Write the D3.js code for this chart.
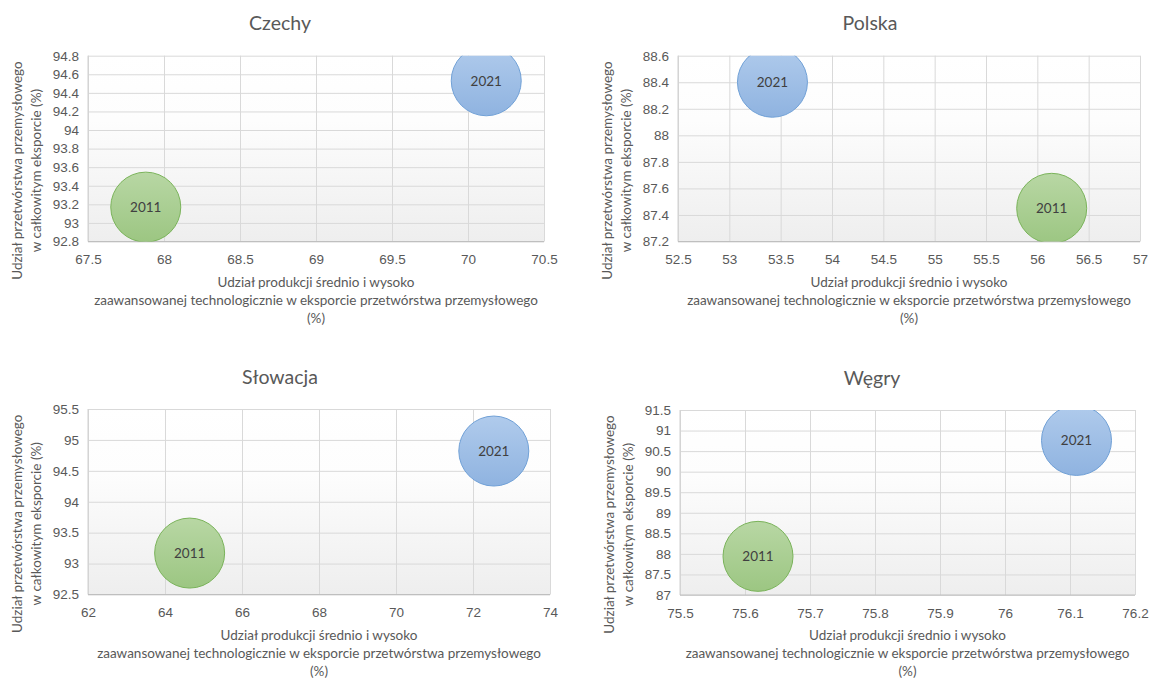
<!DOCTYPE html>
<html>
<head>
<meta charset="utf-8">
<script src="https://cdn.jsdelivr.net/npm/d3@7"></script>
<style>
  html, body { margin: 0; padding: 0; background: #ffffff; }
  svg { display: block; font-family: Lato, "Open Sans", "Liberation Sans", sans-serif; }
</style>
</head>
<body>
<svg id="chart" width="1149" height="678"></svg>
<script>
// Countries shown, one panel each (row by row)
const countries = ["Czechy", "Polska", "Słowacja", "Węgry"];
const years = ["2011", "2021"];

// Share of medium- and high-tech products in manufacturing exports (%)
const techShare2011 = [67.88, 56.14, 64.64, 75.62];
const techShare2021 = [70.12, 53.42, 72.54, 76.11];

// Share of manufacturing in total exports (%)
const manufShare2011 = [93.17, 87.45, 93.17, 87.94];
const manufShare2021 = [94.53, 88.40, 94.82, 90.76];

// Axis tick values per panel
const xTickValues = [
  [67.5, 68, 68.5, 69, 69.5, 70, 70.5],
  [52.5, 53, 53.5, 54, 54.5, 55, 55.5, 56, 56.5, 57],
  [62, 64, 66, 68, 70, 72, 74],
  [75.5, 75.6, 75.7, 75.8, 75.9, 76, 76.1, 76.2]
];
const yTickValues = [
  [92.8, 93, 93.2, 93.4, 93.6, 93.8, 94, 94.2, 94.4, 94.6, 94.8],
  [87.2, 87.4, 87.6, 87.8, 88, 88.2, 88.4, 88.6],
  [92.5, 93, 93.5, 94, 94.5, 95, 95.5],
  [87, 87.5, 88, 88.5, 89, 89.5, 90, 90.5, 91, 91.5]
];

const xTitleLines = [
  "Udział produkcji średnio i wysoko",
  "zaawansowanej technologicznie w eksporcie przetwórstwa przemysłowego",
  "(%)"
];
const yTitleLines = [
  "Udział przetwórstwa przemysłowego",
  "w całkowitym eksporcie (%)"
];

// Plot-area boxes for the four panels [left, top, right, bottom]
const plotBoxes = [
  [88, 55.7, 544, 241.5],
  [678, 55.7, 1140, 241.5],
  [88, 409, 550, 594.5],
  [680, 410, 1135, 595]
];

const bubbleRadius = 35;
const textColor = "#595959";
const fmt = v => String(+v.toFixed(2));

const svg = d3.select("#chart");
const defs = svg.append("defs");

// Plot background: white fading to light grey
const bg = defs.append("linearGradient").attr("id", "plotBg")
  .attr("x1", 0).attr("y1", 0).attr("x2", 0).attr("y2", 1);
bg.append("stop").attr("offset", "0%").attr("stop-color", "#ffffff");
bg.append("stop").attr("offset", "35%").attr("stop-color", "#fdfdfd");
bg.append("stop").attr("offset", "100%").attr("stop-color", "#eeeeee");

// Bubble fills
const bubbleStyles = {
  "2011": { top: "#b8d7a4", bottom: "#9cc682", stroke: "#7ab35a" },
  "2021": { top: "#b0cbec", bottom: "#8fb3e0", stroke: "#70a0d6" }
};
years.forEach(y => {
  const g = defs.append("linearGradient").attr("id", "bubble" + y)
    .attr("x1", 0).attr("y1", 0).attr("x2", 0).attr("y2", 1);
  g.append("stop").attr("offset", "0%").attr("stop-color", bubbleStyles[y].top);
  g.append("stop").attr("offset", "100%").attr("stop-color", bubbleStyles[y].bottom);
});

countries.forEach((country, i) => {
  const [left, top, right, bottom] = plotBoxes[i];
  const xt = xTickValues[i], yt = yTickValues[i];

  const x = d3.scaleLinear().domain(d3.extent(xt)).range([left, right]);
  const y = d3.scaleLinear().domain(d3.extent(yt)).range([bottom, top]);

  const panel = svg.append("g").attr("class", "panel");

  // Title
  panel.append("text")
    .attr("x", left + 192).attr("y", top - 33)
    .attr("text-anchor", "middle").attr("dominant-baseline", "central")
    .attr("font-size", 19.5).attr("fill", textColor)
    .text(country);

  // Plot background
  panel.append("rect")
    .attr("x", left).attr("y", top)
    .attr("width", right - left).attr("height", bottom - top)
    .attr("fill", "url(#plotBg)");

  // Gridlines
  panel.append("g")
    .attr("transform", `translate(0,${bottom})`)
    .call(d3.axisBottom(x).tickValues(xt).tickSize(-(bottom - top)).tickFormat(""))
    .call(g => g.select(".domain").remove())
    .call(g => g.selectAll("line").attr("stroke", "#d9d9d9").attr("stroke-width", 1));
  panel.append("g")
    .attr("transform", `translate(${left},0)`)
    .call(d3.axisLeft(y).tickValues(yt).tickSize(-(right - left)).tickFormat(""))
    .call(g => g.select(".domain").remove())
    .call(g => g.selectAll("line").attr("stroke", "#d9d9d9").attr("stroke-width", 1));

  // Axis lines
  panel.append("line")
    .attr("x1", left).attr("x2", left).attr("y1", top).attr("y2", bottom)
    .attr("stroke", "#d0d0d0");
  panel.append("line")
    .attr("x1", left).attr("x2", right).attr("y1", bottom).attr("y2", bottom)
    .attr("stroke", "#bfbfbf");

  // Tick labels
  const xAxis = panel.append("g")
    .attr("transform", `translate(0,${bottom})`)
    .call(d3.axisBottom(x).tickValues(xt).tickSize(0).tickPadding(13).tickFormat(fmt));
  xAxis.select(".domain").remove();
  xAxis.selectAll("text").attr("font-size", 13.5).attr("fill", textColor)
    .attr("font-family", null);

  const yAxis = panel.append("g")
    .attr("transform", `translate(${left},0)`)
    .call(d3.axisLeft(y).tickValues(yt).tickSize(0).tickPadding(9).tickFormat(fmt));
  yAxis.select(".domain").remove();
  yAxis.selectAll("text").attr("font-size", 13.5).attr("fill", textColor)
    .attr("font-family", null);

  // Bubbles, clipped to the plot area
  const clipId = "clip" + i;
  defs.append("clipPath").attr("id", clipId)
    .append("rect")
    .attr("x", left).attr("y", top)
    .attr("width", right - left).attr("height", bottom - top);

  const points = [
    { year: "2011", xv: techShare2011[i], yv: manufShare2011[i] },
    { year: "2021", xv: techShare2021[i], yv: manufShare2021[i] }
  ];
  const bubbles = panel.append("g").attr("clip-path", `url(#${clipId})`);
  bubbles.selectAll("circle").data(points).join("circle")
    .attr("cx", d => x(d.xv)).attr("cy", d => y(d.yv))
    .attr("r", bubbleRadius)
    .attr("fill", d => `url(#bubble${d.year})`)
    .attr("stroke", d => bubbleStyles[d.year].stroke)
    .attr("stroke-width", 1);
  bubbles.selectAll("text").data(points).join("text")
    .attr("x", d => x(d.xv)).attr("y", d => y(d.yv))
    .attr("text-anchor", "middle").attr("dominant-baseline", "central")
    .attr("font-size", 13.5).attr("fill", "#404040")
    .text(d => d.year);

  // X axis title
  const cx = (left + right) / 2;
  panel.append("g").selectAll("text").data(xTitleLines).join("text")
    .attr("x", cx).attr("y", (d, k) => bottom + 40 + k * 18)
    .attr("text-anchor", "middle").attr("dominant-baseline", "central")
    .attr("font-size", 13.5).attr("fill", textColor)
    .text(d => d);

  // Y axis title (rotated)
  const cy = (top + bottom) / 2 + 22;
  panel.append("g").selectAll("text").data(yTitleLines).join("text")
    .attr("transform", (d, k) => `translate(${left - 71 + k * 19},${cy}) rotate(-90)`)
    .attr("text-anchor", "middle").attr("dominant-baseline", "central")
    .attr("font-size", 13.5).attr("fill", textColor)
    .text(d => d);
});
</script>
</body>
</html>
